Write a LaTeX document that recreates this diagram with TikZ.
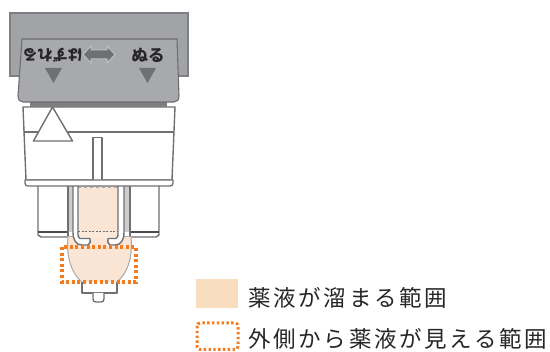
\documentclass[tikz,border=0pt]{standalone}
\usepackage{fontspec}
\usetikzlibrary{patterns}
\newfontfamily\cjk{Noto Sans CJK JP}
\newfontfamily\cjkspaced[LetterSpace=12]{Noto Sans CJK JP}
\definecolor{panelgray}{HTML}{A8A9AC}
\definecolor{backgray}{HTML}{A2A3A6}
\definecolor{edgegray}{HTML}{7F8083}
\definecolor{darkedge}{HTML}{4A4A4C}
\definecolor{lineg}{HTML}{6F7072}
\definecolor{liquid}{HTML}{FCE9DA}
\definecolor{hatchc}{HTML}{F8DFCB}
\definecolor{swatch}{HTML}{F9DDBF}
\definecolor{dotorange}{HTML}{F47C20}
\tikzset{
  outline/.style={draw=lineg,line width=1.4pt,fill=white,line join=round},
  plainline/.style={draw=lineg,line width=1.4pt},
  liquidfill/.style={fill=liquid},
  liquidhatch/.style={pattern=north east lines,pattern color=hatchc},
  dotbox/.style={draw=dotorange,line width=4pt,dash pattern=on 3pt off 2.6pt},
  marktri/.style={fill=lineg,draw=none},
  btn/.style={text=black!85,inner sep=0pt},
  legend/.style={font=\cjkspaced\fontsize{22.5}{22.5}\selectfont,text=black!85,inner sep=0pt,anchor=west}
}
\begin{document}
\begin{tikzpicture}[x=1pt,y=-1pt]
\useasboundingbox (0,0) rectangle (550,352);
% back plate
\draw[fill=backgray,draw=edgegray,line width=1.4pt] (10,13) -- (188,13) -- (188,76) -- (10,76) -- cycle;
% body
\draw[outline] (23,107) -- (175,107) -- (172,180) -- (26,180) -- cycle;
\draw[plainline] (23.5,132) -- (174,132);
\draw[outline] (52.5,107) -- (72.5,141) -- (33.5,141) -- cycle;
\draw[outline] (93,180) -- (93,137.5) -- (102,137.5) -- (102,180);
% lower flanks
\draw[outline] (38,186) -- (38,235) -- (41,237) -- (156,237) -- (159,235) -- (159,186);
\draw[darkedge,line width=1.6pt] (38,232) -- (68,232) (130,232) -- (159,232);
% bulb
\path[liquidfill] (68,237) .. controls (66,258) and (72,274) .. (82,282) -- (117,282) .. controls (127,274) and (133,258) .. (131,237) -- cycle;
\path[liquidhatch] (68,237) .. controls (66,258) and (72,274) .. (82,282) -- (117,282) .. controls (127,274) and (133,258) .. (131,237) -- cycle;
\draw[draw=lineg!60,line width=1pt] (68,237) .. controls (66,258) and (72,274) .. (82,282);
\draw[draw=lineg!60,line width=1pt] (131,237) .. controls (133,258) and (127,274) .. (117,282);
% liquid column
\path[liquidfill] (78,186) rectangle (118,238);
\path[liquidhatch] (78,186) rectangle (118,232);
\draw[lineg!60,dashed,line width=.8pt] (78,187) -- (118,187);
\draw[darkedge!80,dash pattern=on 2pt off 1.5pt,line width=1pt] (78,232) -- (118,232);
% tube walls
\fill[lineg!35] (68,186) rectangle (73,232);
\fill[lineg!35] (124,186) rectangle (130,232);
\draw[outline,fill=white] (73,186) -- (73,232) .. controls (73,240) and (76,245) .. (82,245) -- (88,245) .. controls (90,244) and (91,241) .. (90,238.5) -- (80,238.5) .. controls (78,238) and (78,236) .. (78,232) -- (78,186);
\draw[outline,fill=white] (124,186) -- (124,232) .. controls (124,240) and (121,245) .. (115,245) -- (110,245) .. controls (108,244) and (107,241) .. (108,238.5) -- (116,238.5) .. controls (118,238) and (118,236) .. (118,232) -- (118,186);
\draw[plainline] (68,186) -- (68,236) (130,186) -- (130,236);
% flange
\draw[outline] (25,180) -- (173,180) -- (173,183) .. controls (173,185) and (172,186) .. (170,186) -- (28,186) .. controls (26,186) and (25,185) .. (25,183) -- cycle;
% foot
\draw[outline] (82,282) -- (82,293) -- (117,293) -- (117,282);
\draw[outline] (93,293) -- (93,299) .. controls (93,301) and (94,302) .. (96,302) -- (101,302) .. controls (103,302) and (104,301) .. (104,299) -- (104,293);
% inspection area
\draw[dotbox] (62,247) rectangle (136,282);
% strip and front panel
\fill[lineg!90] (30,101) rectangle (167,107);
\draw[fill=panelgray,draw=darkedge!80,line width=1.1pt] (22,39) -- (177,39) -- (179,96) .. controls (179,100) and (177,102) .. (174,102) -- (23,102) .. controls (20,102) and (18,100) .. (18,96) -- cycle;
% triangles
\fill[marktri] (45,68) -- (62,68) -- (53.5,83) -- cycle;
\fill[marktri] (139,68) -- (156,68) -- (147.5,83) -- cycle;
% double arrow
\draw[fill=lineg,draw=lineg!45,line width=1pt] (83,54.5) -- (91,46) -- (91,50) -- (107,50) -- (107,46) -- (115,54.5) -- (107,63) -- (107,59) -- (91,59) -- (91,63) -- cycle;
% texts
\node[btn,rotate=180,font=\cjk\bfseries\fontsize{15}{15}\selectfont] (lefttext) at (52.5,55) {はずれる};
\node[btn,font=\cjk\bfseries\fontsize{16.5}{16.5}\selectfont] (righttext) at (148,55) {ぬる};
% legend
\fill[swatch] (196,279) rectangle (238,308);
\draw[dotorange,line width=3pt,dash pattern=on 2.4pt off 2.4pt,rounded corners=3pt] (197,323) rectangle (238,349.5);
\node[legend] (legendone) at (248,298) {薬液が溜まる範囲};
\node[legend] (legendtwo) at (248,339) {外側から薬液が見える範囲};
\end{tikzpicture}
\end{document}
